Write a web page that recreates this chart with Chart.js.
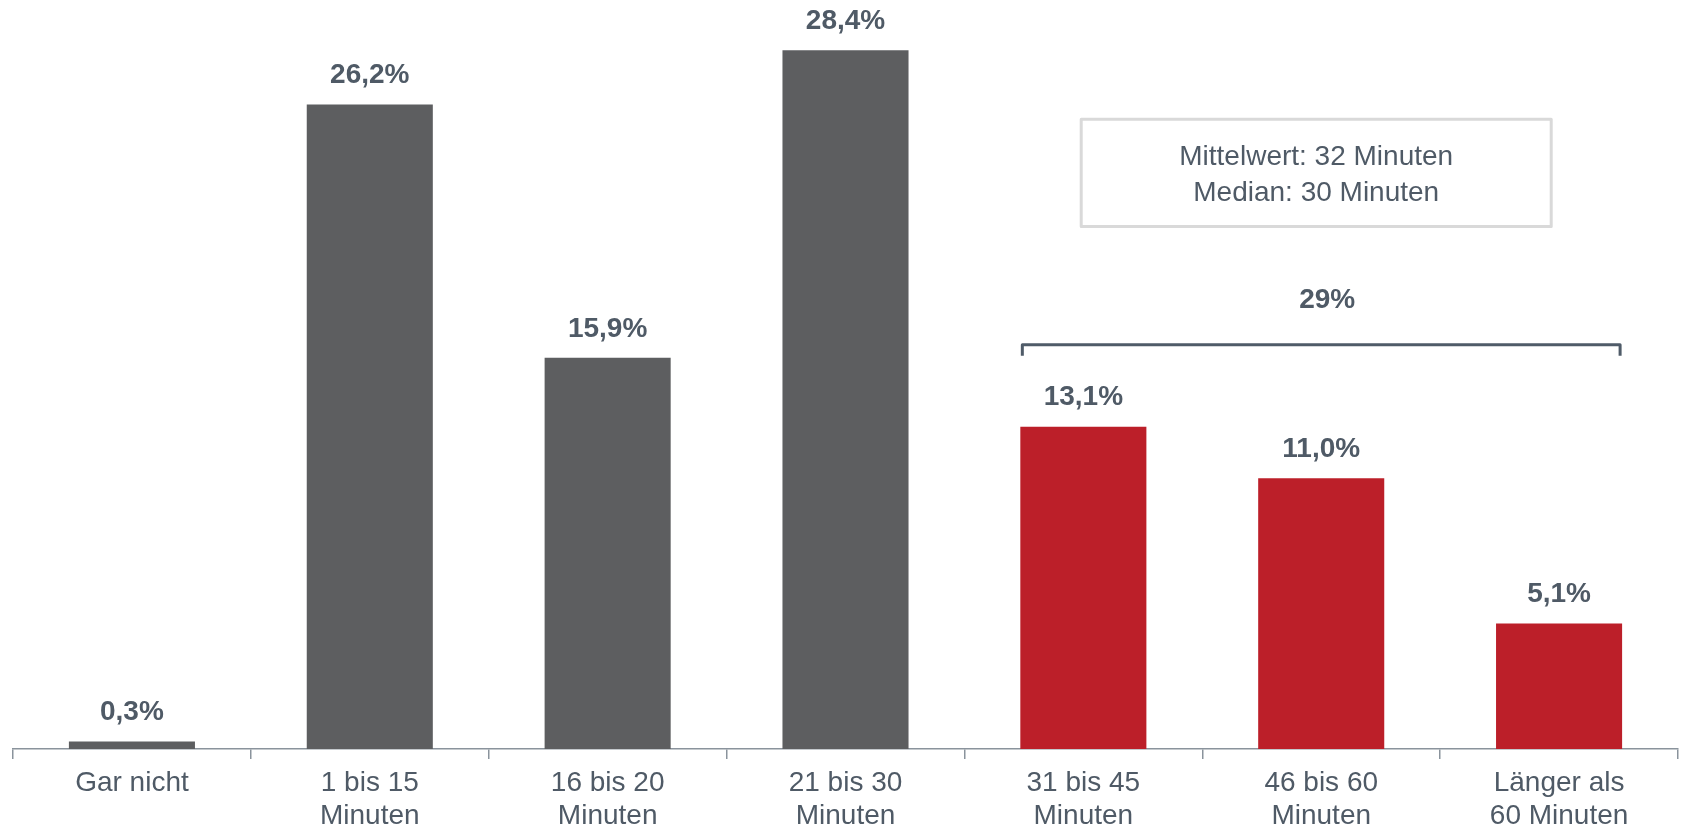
<!DOCTYPE html>
<html>
<head>
<meta charset="utf-8">
<script src="https://cdn.jsdelivr.net/npm/chart.js@4.4.1/dist/chart.umd.min.js"></script>
<style>
    html, body { margin: 0; padding: 0; background: #ffffff; }
    #wrap { width: 1681px; height: 830px; position: relative; }
</style>
</head>
<body>
<div id="wrap"><canvas id="chart"></canvas></div>
<script>
const categories = [
    ["Gar nicht"],
    ["1 bis 15", "Minuten"],
    ["16 bis 20", "Minuten"],
    ["21 bis 30", "Minuten"],
    ["31 bis 45", "Minuten"],
    ["46 bis 60", "Minuten"],
    ["Länger als", "60 Minuten"]
];
const shares = [0.3, 26.2, 15.9, 28.4, 13.1, 11.0, 5.1];
const longGroup = [4, 6];          // first and last bar under the bracket
const longGroupLabel = "29%";
const noteLines = ["Mittelwert: 32 Minuten", "Median: 30 Minuten"];

const GRAY = "#5d5e60";
const RED = "#bc1f29";
const TEXT = "#4f5a66";
const FONT = "'Liberation Sans', Arial, Helvetica, sans-serif";

function fmt(v) {
    return v.toFixed(1).replace(".", ",") + "%";
}

const overlay = {
    id: "overlay",
    afterDatasetsDraw(chart) {
        const ctx = chart.ctx;
        const bars = chart.getDatasetMeta(0).data;
        const y = chart.scales.y;
        const x = chart.scales.x;

        ctx.save();
        ctx.fillStyle = TEXT;
        ctx.textAlign = "center";
        ctx.textBaseline = "middle";
        ctx.font = "bold 28px " + FONT;
        bars.forEach((bar, i) => {
            ctx.fillText(fmt(shares[i]), bar.x, bar.y - 29);
        });

        // bracket over the long commutes
        const first = bars[longGroup[0]];
        const last = bars[longGroup[1]];
        const left = first.x - first.width / 2 + 2;
        const right = last.x + last.width / 2 - 2;
        const by = y.getPixelForValue(16.43);
        ctx.strokeStyle = "#4f5b68";
        ctx.lineWidth = 3;
        ctx.lineJoin = "round";
        ctx.beginPath();
        ctx.moveTo(left, by + 11);
        ctx.lineTo(left, by);
        ctx.lineTo(right, by);
        ctx.lineTo(right, by + 11);
        ctx.stroke();
        ctx.fillText(longGroupLabel, (left + right) / 2 + 6, y.getPixelForValue(18.22));

        // note box
        const cx = x.getPixelForValue(5) - 5;
        const boxTop = y.getPixelForValue(25.6);
        const boxBottom = y.getPixelForValue(21.24);
        const boxW = 470;
        ctx.strokeStyle = "#d9d9d9";
        ctx.lineWidth = 3;
        ctx.strokeRect(cx - boxW / 2, boxTop, boxW, boxBottom - boxTop);
        ctx.font = "28px " + FONT;
        ctx.fillText(noteLines[0], cx, boxTop + 38);
        ctx.fillText(noteLines[1], cx, boxTop + 74);
        ctx.restore();
    }
};

new Chart(document.getElementById("chart"), {
    type: "bar",
    data: {
        labels: categories,
        datasets: [{
            data: shares,
            backgroundColor: shares.map((v, i) => i >= longGroup[0] ? RED : GRAY),
            borderWidth: 0,
            categoryPercentage: 1,
            barPercentage: 0.53
        }]
    },
    options: {
        responsive: true,
        maintainAspectRatio: false,
        animation: false,
        layout: { padding: { top: 11, left: 13, right: 3, bottom: -11 } },
        plugins: {
            legend: { display: false },
            tooltip: { enabled: false }
        },
        scales: {
            x: {
                grid: {
                    display: true,
                    offset: true,
                    drawOnChartArea: false,
                    drawTicks: true,
                    tickLength: 10,
                    color: "#8a939c",
                    lineWidth: 1.5
                },
                border: { display: true, color: "#8a939c", width: 1.5 },
                ticks: {
                    color: TEXT,
                    padding: 8,
                    maxRotation: 0,
                    autoSkip: false,
                    font: { family: FONT, size: 28, lineHeight: 1.18 }
                }
            },
            y: {
                display: false,
                min: 0,
                max: 30
            }
        }
    },
    plugins: [overlay]
});
</script>
</body>
</html>
